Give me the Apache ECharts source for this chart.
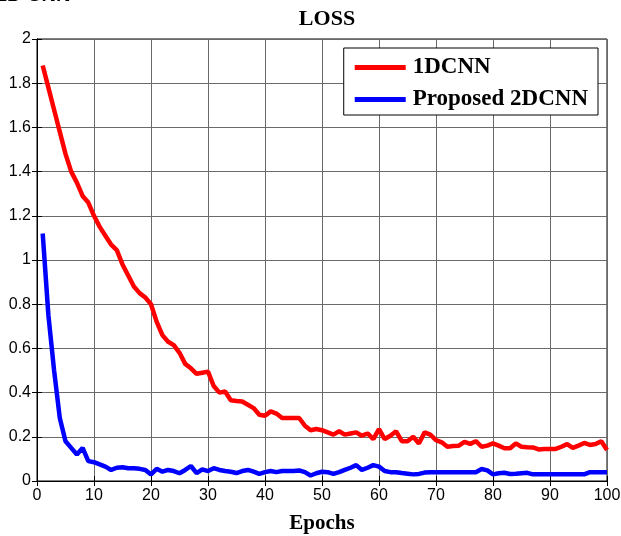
<!DOCTYPE html>
<html>
<head>
<meta charset="utf-8">
<script src="https://cdn.jsdelivr.net/npm/echarts@6/dist/echarts.min.js"></script>
<style>
html,body{margin:0;padding:0;background:#fff;}
#chart{width:621px;height:536px;}
</style>
</head>
<body>
<div id="chart"></div>
<script>
const titleText = 'LOSS';
const xAxisName = 'Epochs';
const seriesNames = ['1DCNN', 'Proposed 2DCNN'];
const epochs = Array.from({length: 100}, (_, i) => i + 1);
const cnn1d = [
  1.88, 1.78, 1.68, 1.58, 1.48, 1.40, 1.35, 1.29, 1.26, 1.20,
  1.15, 1.11, 1.07, 1.045, 0.98, 0.93, 0.88, 0.85, 0.83, 0.80,
  0.72, 0.66, 0.63, 0.615, 0.58, 0.53, 0.51, 0.485, 0.49, 0.495,
  0.43, 0.40, 0.405, 0.365, 0.362, 0.36, 0.345, 0.33, 0.30, 0.295,
  0.315, 0.305, 0.285, 0.285, 0.285, 0.285, 0.25, 0.23, 0.235, 0.23,
  0.22, 0.21, 0.225, 0.21, 0.215, 0.22, 0.205, 0.215, 0.19, 0.235,
  0.19, 0.205, 0.225, 0.18, 0.18, 0.20, 0.17, 0.22, 0.21, 0.185,
  0.175, 0.155, 0.158, 0.16, 0.177, 0.168, 0.18, 0.155, 0.16, 0.17,
  0.16, 0.148, 0.148, 0.17, 0.155, 0.153, 0.152, 0.143, 0.145, 0.145,
  0.145, 0.155, 0.167, 0.15, 0.16, 0.172, 0.163, 0.167, 0.18, 0.14
];
const cnn2d = [
  1.12, 0.75, 0.50, 0.285, 0.18, 0.15, 0.12, 0.15, 0.09, 0.085,
  0.075, 0.065, 0.05, 0.06, 0.062, 0.058, 0.058, 0.055, 0.05, 0.03,
  0.055, 0.042, 0.05, 0.045, 0.035, 0.05, 0.068, 0.036, 0.053, 0.045,
  0.058, 0.05, 0.045, 0.042, 0.036, 0.045, 0.05, 0.042, 0.032, 0.04,
  0.045, 0.04, 0.045, 0.045, 0.045, 0.048, 0.04, 0.025, 0.035, 0.042,
  0.04, 0.032, 0.04, 0.05, 0.06, 0.072, 0.05, 0.06, 0.072, 0.065,
  0.045, 0.04, 0.04, 0.036, 0.033, 0.03, 0.032, 0.038, 0.04, 0.04,
  0.04, 0.04, 0.04, 0.04, 0.04, 0.04, 0.04, 0.054, 0.048, 0.03,
  0.035, 0.037, 0.032, 0.033, 0.035, 0.037, 0.03, 0.03, 0.03, 0.03,
  0.03, 0.03, 0.03, 0.03, 0.03, 0.03, 0.04, 0.04, 0.04, 0.04
];
const xTicks = {min: 0, max: 100, interval: 10};
const yTicks = {min: 0, max: 2, interval: 0.2};

const chart = echarts.init(document.getElementById('chart'), null, {renderer: 'canvas'});
const serif = '"Liberation Serif", "Times New Roman", serif';
const sans = '"Liberation Sans", Arial, sans-serif';
const gridLine = {show: true, lineStyle: {color: '#6a6a6a', width: 1, type: 'solid'}};
const pairs = arr => epochs.map((e, i) => [e, arr[i]]);

chart.setOption({
  animation: false,
  backgroundColor: '#fff',
  title: {
    text: titleText, left: 322, top: 3, textAlign: 'center',
    textStyle: {fontFamily: serif, fontWeight: 'bold', fontSize: 22, color: '#000'}
  },
  graphic: [{
    type: 'text', left: -4, top: -15,
    style: {text: '2D CNN', font: 'bold 20px "Liberation Sans", Arial, sans-serif', fill: '#000'}
  }],
  legend: {
    orient: 'vertical', right: 23, top: 48,
    backgroundColor: '#fff', borderColor: '#000', borderWidth: 1,
    padding: [8, 10, 4, 11], itemGap: 9,
    icon: 'rect', itemWidth: 51, itemHeight: 5,
    textStyle: {fontFamily: serif, fontWeight: 'bold', fontSize: 23, color: '#000', padding: [0, 0, 0, 2]},
    data: seriesNames
  },
  grid: {left: 37, right: 14, top: 39, bottom: 55, show: true, borderColor: '#000', borderWidth: 1,
    outerBoundsMode: 'none', containLabel: false},
  xAxis: [{
    type: 'value', min: xTicks.min, max: xTicks.max, interval: xTicks.interval,
    name: xAxisName, nameLocation: 'middle', nameGap: 32,
    nameTextStyle: {fontFamily: serif, fontWeight: 'bold', fontSize: 21, color: '#000'},
    axisLine: {show: true, lineStyle: {color: '#000', width: 1}},
    axisTick: {show: true, inside: true, length: 5, lineStyle: {color: '#000'}},
    axisLabel: {fontFamily: sans, fontSize: 16, color: '#000', margin: 7},
    splitLine: gridLine
  }, {
    type: 'value', position: 'top', min: xTicks.min, max: xTicks.max, interval: xTicks.interval,
    axisLine: {show: true, lineStyle: {color: '#000'}},
    axisTick: {show: true, inside: true, length: 5, lineStyle: {color: '#000'}},
    axisLabel: {show: false}, splitLine: {show: false}
  }],
  yAxis: [{
    type: 'value', min: yTicks.min, max: yTicks.max, interval: yTicks.interval,
    axisLine: {show: true, lineStyle: {color: '#000', width: 1}},
    axisTick: {show: true, inside: true, length: 5, lineStyle: {color: '#000'}},
    axisLabel: {fontFamily: sans, fontSize: 16, color: '#000', margin: 6,
      formatter: v => String(Math.round(v * 10) / 10)},
    splitLine: gridLine
  }, {
    type: 'value', position: 'right', min: yTicks.min, max: yTicks.max, interval: yTicks.interval,
    axisLine: {show: true, lineStyle: {color: '#000'}},
    axisTick: {show: true, inside: true, length: 5, lineStyle: {color: '#000'}},
    axisLabel: {show: false}, splitLine: {show: false}
  }],
  series: [{
    name: seriesNames[0], type: 'line', data: pairs(cnn1d),
    showSymbol: false, symbol: 'none', lineStyle: {color: '#ff0000', width: 4.5}, itemStyle: {color: '#ff0000'}
  }, {
    name: seriesNames[1], type: 'line', data: pairs(cnn2d),
    showSymbol: false, symbol: 'none', lineStyle: {color: '#0000ff', width: 4.5}, itemStyle: {color: '#0000ff'}
  }]
});
</script>
</body>
</html>
